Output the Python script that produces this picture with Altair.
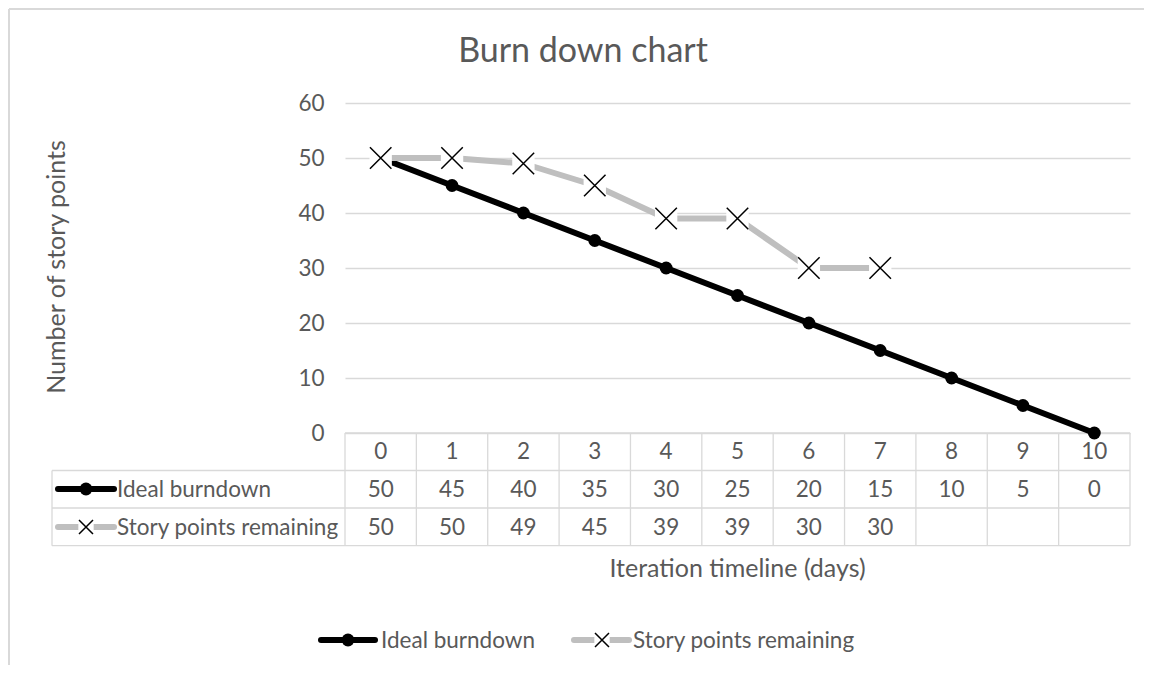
import altair as alt
import pandas as pd

# ---------------- data ----------------
days = [0, 1, 2, 3, 4, 5, 6, 7, 8, 9, 10]
ideal = [50, 45, 40, 35, 30, 25, 20, 15, 10, 5, 0]
story = [50, 50, 49, 45, 39, 39, 30, 30, None, None, None]
series_names = ["Ideal burndown", "Story points remaining"]
y_ticks = [0, 10, 20, 30, 40, 50, 60]
chart_title = "Burn down chart"
x_title = "Iteration timeline (days)"
y_title = "Number of story points"

# ---------------- style ----------------
FONT = "Lato"
FS = 22.5
TEXT = "#595959"
GRID = "#d9d9d9"
GRAY = "#bfbfbf"
BLACK = "#000000"
W, H = 785, 330
XPATH = "M-1,-1L1,1M-1,1L1,-1"

df_ideal = pd.DataFrame({"day": days, "value": ideal, "series": series_names[0]})
df_story = pd.DataFrame({"day": days, "value": story, "series": series_names[1]}).dropna()
df_days = pd.DataFrame({"day": days})
df_edges = pd.DataFrame({"edge": [d - 0.5 for d in days] + [days[-1] + 0.5]})

xscale = alt.Scale(domain=[days[0] - 0.5, days[-1] + 0.5], nice=False, zero=False)
yscale = alt.Scale(domain=[y_ticks[0], y_ticks[-1]], nice=False)
X = alt.X("day:Q", scale=xscale, axis=None)
Y = alt.Y(
    "value:Q",
    scale=yscale,
    axis=alt.Axis(
        values=y_ticks, grid=True, gridColor=GRID, gridWidth=1.3, domain=False,
        ticks=False, labelPadding=21, labelFontSize=FS, labelColor=TEXT,
        labelFont=FONT, title=None,
    ),
)

layers = []

# outer border (top & left)
one = pd.DataFrame({"k": [0]})
layers.append(alt.Chart(one).mark_rule(color=GRID, strokeWidth=2).encode(
    x=alt.value(-336), x2=alt.value(W + 20), y=alt.value(-94)))
layers.append(alt.Chart(one).mark_rule(color=GRID, strokeWidth=2).encode(
    x=alt.value(-336), y=alt.value(-94), y2=alt.value(H + 240)))

# data table lines
TB = [H, 367.5, 405, 442.7]
layers.append(alt.Chart(df_edges).mark_rule(color=GRID, strokeWidth=1.3).encode(
    x=alt.X("edge:Q", scale=xscale, axis=None), y=alt.value(TB[0]), y2=alt.value(TB[3])))
layers.append(alt.Chart(one).mark_rule(color=GRID, strokeWidth=1.3).encode(
    x=alt.value(0), x2=alt.value(W), y=alt.value(TB[0])))
for yy in TB[1:]:
    layers.append(alt.Chart(one).mark_rule(color=GRID, strokeWidth=1.3).encode(
        x=alt.value(-293), x2=alt.value(W), y=alt.value(yy)))
layers.append(alt.Chart(one).mark_rule(color=GRID, strokeWidth=1.3).encode(
    x=alt.value(-293), y=alt.value(TB[1]), y2=alt.value(TB[3])))

# table text
tstyle = dict(font=FONT, fontSize=FS, color=TEXT, baseline="alphabetic", align="center")
layers.append(alt.Chart(df_days).mark_text(**tstyle).encode(
    x=alt.X("day:Q", scale=xscale, axis=None), y=alt.value(355.5), text="day:Q"))
layers.append(alt.Chart(df_ideal).mark_text(**tstyle).encode(
    x=X, y=alt.value(393.5), text="value:Q"))
layers.append(alt.Chart(df_story).mark_text(**tstyle).encode(
    x=X, y=alt.value(431.5), text="value:Q"))

# series
layers.append(alt.Chart(df_ideal).mark_line(color=BLACK, strokeWidth=6, strokeCap="round", strokeJoin="round").encode(x=X, y=Y))
layers.append(alt.Chart(df_ideal).mark_point(shape="circle", filled=True, color=BLACK, size=165, opacity=1).encode(x=X, y=Y))
layers.append(alt.Chart(df_story).mark_line(color=GRAY, strokeWidth=6, strokeCap="round", strokeJoin="round").encode(x=X, y=Y))
layers.append(alt.Chart(df_story).mark_point(shape="square", filled=True, color="#ffffff", size=500, opacity=1).encode(x=X, y=Y))
layers.append(alt.Chart(df_story).mark_point(shape=XPATH, filled=False, color=BLACK, strokeWidth=1.5, size=462, opacity=1).encode(x=X, y=Y))


def legend_key(idx, x0, x1, xm, yc, xt, yt, xsize):
    d = pd.DataFrame({"name": [series_names[idx]]})
    out = []
    if idx == 0:
        out.append(alt.Chart(d).mark_rule(color=BLACK, strokeWidth=6, strokeCap="round").encode(
            x=alt.value(x0), x2=alt.value(x1), y=alt.value(yc)))
        out.append(alt.Chart(d).mark_point(shape="circle", filled=True, color=BLACK, size=165, opacity=1).encode(
            x=alt.value(xm), y=alt.value(yc)))
    else:
        out.append(alt.Chart(d).mark_rule(color=GRAY, strokeWidth=6, strokeCap="round").encode(
            x=alt.value(x0), x2=alt.value(x1), y=alt.value(yc)))
        out.append(alt.Chart(d).mark_point(shape="square", filled=True, color="#ffffff", size=xsize * 1.2, opacity=1).encode(
            x=alt.value(xm), y=alt.value(yc)))
        out.append(alt.Chart(d).mark_point(shape=XPATH, filled=False, color=BLACK, strokeWidth=1.5, size=xsize, opacity=1).encode(
            x=alt.value(xm), y=alt.value(yc)))
    out.append(alt.Chart(d).mark_text(font=FONT, fontSize=FS, color=TEXT, align="left", baseline="alphabetic").encode(
        x=alt.value(xt), y=alt.value(yt), text="name:N"))
    return out

# table legend keys
layers += legend_key(0, -287, -231, -259, 386, -228, 393.5, 196)
layers += legend_key(1, -287, -231, -259, 424, -228, 431.5, 196)
# bottom legend
layers += legend_key(0, -24, 30, 3, 537, 36, 544.5, 196)
layers += legend_key(1, 229, 284, 257, 537, 288, 544.5, 196)

# titles
layers.append(alt.Chart(one).mark_text(text=chart_title, font=FONT, fontSize=34, color=TEXT, align="center", baseline="alphabetic").encode(
    x=alt.value(238), y=alt.value(-41)))
layers.append(alt.Chart(one).mark_text(text=x_title, font=FONT, fontSize=25, color=TEXT, align="center", baseline="alphabetic").encode(
    x=alt.value(W / 2), y=alt.value(474)))
layers.append(alt.Chart(one).mark_text(text=y_title, font=FONT, fontSize=25, color=TEXT, align="center", baseline="alphabetic", angle=270).encode(
    x=alt.value(-280), y=alt.value(164)))

chart = alt.layer(*layers).properties(
    width=W, height=H,
    autosize=alt.AutoSizeParams(type="none"),
    padding={"left": 337, "top": 95, "right": 14, "bottom": 232},
).configure(background="#ffffff", view=alt.ViewConfig(stroke=None))

chart.save("out.html", embed_options={"renderer": "svg", "actions": False})
